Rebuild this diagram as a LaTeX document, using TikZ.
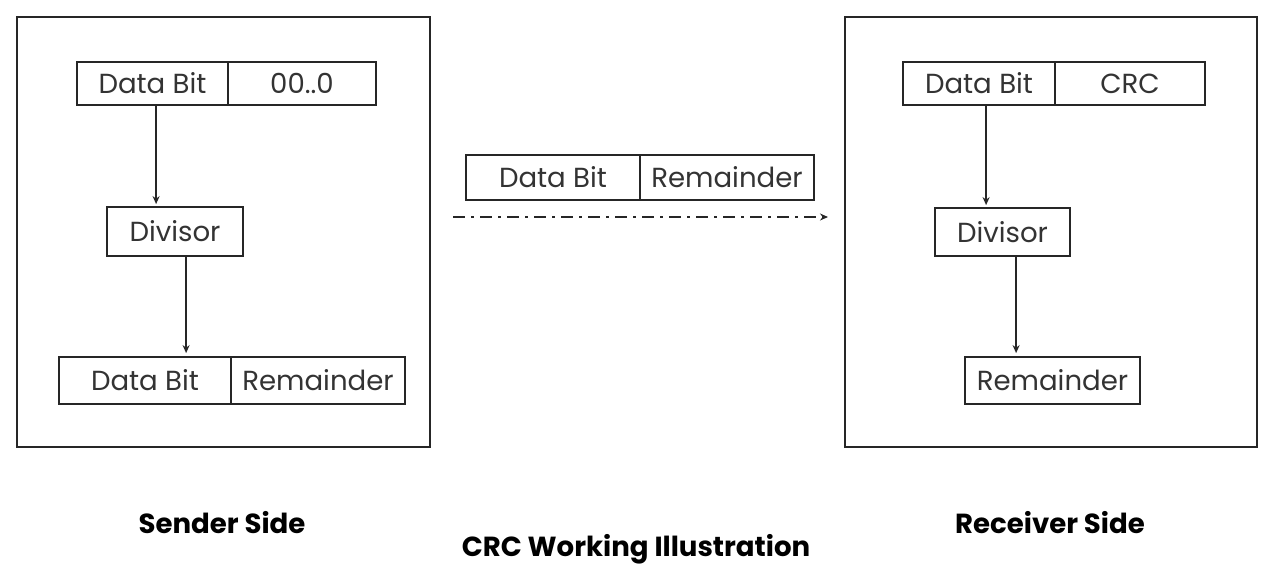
\documentclass[tikz,border=0pt]{standalone}
\usepackage{fontspec}
\setmainfont{Poppins}
\usetikzlibrary{arrows.meta,positioning,calc}
\tikzset{
  cell/.style={draw=black!85, line width=0.9pt, inner sep=0pt, font=\fontsize{13.8}{15}\selectfont\color{black!80}},
  side/.style={draw=black!85, line width=1pt},
  flow/.style={draw=black!85, line width=0.8pt, -{Stealth[length=4pt,width=3.5pt]}},
  caption/.style={font=\fontsize{13.8}{15}\selectfont\bfseries}
}
\begin{document}
\begin{tikzpicture}[x=0.5pt,y=-0.5pt]
  \useasboundingbox (0,0) rectangle (1280,585);
  % sender and receiver frames
  \draw[side] (17,17) rectangle (430,447);
  \draw[side] (845,17) rectangle (1257,447);

  % sender side
  \node[cell, minimum width=75.5pt, minimum height=21.5pt] (dbA) at (152.5,83.5) {Data Bit};
  \node[cell, minimum width=74pt, minimum height=21.5pt] (zeroA) at (302,83.5) {00..0};
  \node[cell, minimum width=68pt, minimum height=24.5pt] (divL) at (175,231.5) {Divisor};
  \node[cell, minimum width=86pt, minimum height=23.5pt] (dbB) at (145,380.5) {Data Bit};
  \node[cell, minimum width=87pt, minimum height=23.5pt] (remB) at (318,380.5) {Remainder};
  \draw[flow] ([xshift=40pt]dbA.south west) -- ([xshift=40pt,yshift=1pt]dbA.south west |- divL.north);
  \draw[flow] ([xshift=40pt]divL.south west) -- ([xshift=40pt,yshift=1.5pt]divL.south west |- dbB.north);

  % transmitted frame
  \node[cell, minimum width=87pt, minimum height=22.5pt] (dbM) at (553,177.5) {Data Bit};
  \node[cell, minimum width=87pt, minimum height=22.5pt] (remM) at (727,177.5) {Remainder};
  \coordinate (txS) at (453,217);
  \coordinate (txE) at (828,217);
  \draw[flow, dash pattern=on 6pt off 3pt on 1.5pt off 3pt] (txS) -- (txE);

  % receiver side
  \node[cell, minimum width=76pt, minimum height=21.5pt] (dbR) at (979,83.5) {Data Bit};
  \node[cell, minimum width=75pt, minimum height=21.5pt] (crcR) at (1130,83.5) {CRC};
  \node[cell, minimum width=67.5pt, minimum height=24pt] (divR) at (1002.5,232) {Divisor};
  \node[cell, minimum width=87.5pt, minimum height=23.5pt] (remR) at (1052.5,380.5) {Remainder};
  \draw[flow] ([xshift=42pt]dbR.south west) -- ([xshift=42pt,yshift=1pt]dbR.south west |- divR.north);
  \draw[flow] ([xshift=41pt]divR.south west) -- ([xshift=41pt,yshift=1.5pt]divR.south west |- remR.north);

  % captions
  \node[caption] (sendT) at (222,523) {Sender Side};
  \node[caption] (recvT) at (1050,523) {Receiver Side};
  \node[caption] (mainT) at (636,549) {CRC Working Illustration};
\end{tikzpicture}
\end{document}
